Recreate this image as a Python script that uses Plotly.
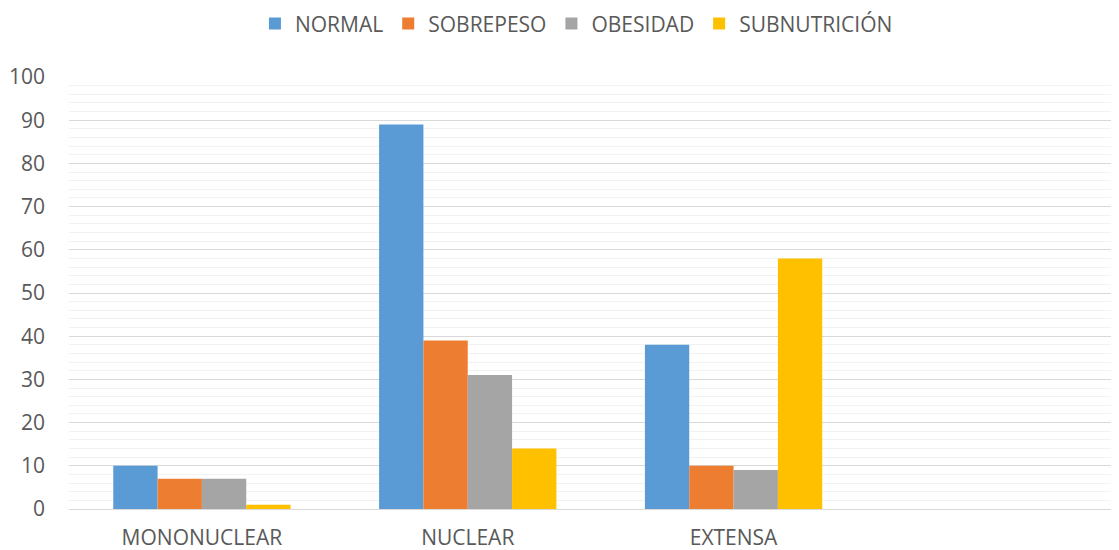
import plotly.graph_objects as go

categories = ["MONONUCLEAR", "NUCLEAR", "EXTENSA"]
series_names = ["NORMAL", "SOBREPESO", "OBESIDAD", "SUBNUTRICIÓN"]
normal = [10, 89, 38]
sobrepeso = [7, 39, 10]
obesidad = [7, 31, 9]
subnutricion = [1, 14, 58]
y_ticks = [0, 10, 20, 30, 40, 50, 60, 70, 80, 90, 100]

colors = ["#5B9BD5", "#ED7D31", "#A5A5A5", "#FFC000"]
values = [normal, sobrepeso, obesidad, subnutricion]

FONT = "Open Sans, Liberation Sans, sans-serif"

fig = go.Figure()
for name, vals, col in zip(series_names, values, colors):
    fig.add_trace(go.Bar(x=categories, y=vals, name=name, marker=dict(color=col, line=dict(width=0))))

# page body adds an 8px offset, so margins are shifted by that amount
fig.update_layout(
    width=1119, height=550,
    margin=dict(l=61, r=0, t=69, b=49),
    paper_bgcolor="white", plot_bgcolor="white",
    barmode="group", bargap=0.333, bargroupgap=0,
    font=dict(family=FONT, color="#595959", size=21),
    legend=dict(
        orientation="h", xref="container", x=0.508, xanchor="center",
        yref="container", y=0.971, yanchor="middle",
        font=dict(size=21, color="#595959"), itemwidth=30,
        traceorder="normal",
    ),
)
# last (empty) category slot is cut off at the right edge, like the original
fig.update_xaxes(
    type="category", range=[-0.5, 3.48],
    showgrid=False, showline=False, ticks="",
    tickfont=dict(size=21, color="#595959"), ticklabelstandoff=14,
)
fig.update_yaxes(
    range=[0, 100], tickvals=y_ticks,
    showgrid=True, gridcolor="#d9d9d9", gridwidth=1,
    minor=dict(dtick=2, showgrid=True, gridcolor="#f2f2f2", gridwidth=1),
    zeroline=True, zerolinecolor="#d9d9d9", zerolinewidth=1,
    showline=False, ticks="",
    tickfont=dict(size=21, color="#595959"), ticklabelstandoff=23,
)

fig.write_html("out.html")
